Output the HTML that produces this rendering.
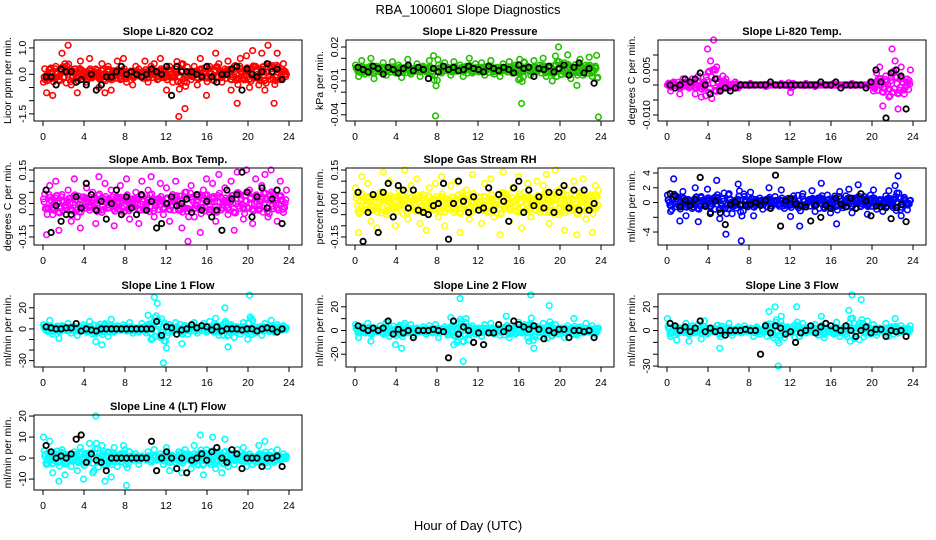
<!DOCTYPE html>
<html><head><meta charset="utf-8"><style>
html,body{margin:0;padding:0;background:#fff;}
svg{display:block;font-family:"Liberation Sans",sans-serif;}
</style></head><body>
<svg id="chart" width="936" height="540" viewBox="0 0 936 540" xmlns="http://www.w3.org/2000/svg">
<rect width="936" height="540" fill="#fff"/>
<text x="468" y="14" text-anchor="middle" font-size="13">RBA_100601  Slope Diagnostics</text>
<text x="468" y="530" text-anchor="middle" font-size="13">Hour of Day (UTC)</text>
</svg>
<script>
const xTicks = [0,4,8,12,16,20,24];
const co2C = [-0.3,-0.7,0.2,-0.8,0.3,-0.2,0.8,0.4,1.1,-0.4,0.2,-0.7,0.5,0.1,-0.3,0.6,-0.1,0.2,-0.5,0.4,-0.7,0.3,-0.6,0.1,0.5,-0.2,0.6,-0.3,0.1,-0.4,0.3,0.2,-0.1,0.5,-0.3,0.3,0.4,-0.2,0.6,0.0,-0.6,0.3,-0.3,0.2,-1.6,0.4,-1.3,0.1,-0.2,0.3,-0.4,0.6,0.1,-0.8,0.3,-0.2,0.8,0.4,-0.3,0.2,0.5,-0.6,0.3,-1.1,0.6,-0.2,0.7,-0.5,0.9,0.3,-0.4,0.8,-0.6,1.1,0.2,-1.1,0.8,-0.2,0.4,0.0];
const co2K = [-0.1,-0.1,-0.4,0.2,0.1,0.1,-0.3,-0.2,-0.4,0.0,-0.6,-0.4,-0.1,-0.1,0.1,0.3,0.0,0.1,0.0,-0.1,0.0,0.2,0.1,0.0,0.3,-0.8,0.3,0.1,0.1,0.1,0.0,-0.1,0.3,-0.1,-0.3,0.0,0.0,0.2,0.3,-0.6,0.2,0.0,-0.1,0.1,0.4,0.1,0.2,-0.2];
const presC = [.004,-.006,.008,-.004,.002,.010,-.008,.003,-.002,.006,-.005,.001,.007,-.003,.004,-.007,.002,.009,-.004,.000,.005,-.006,.003,-.002,.008,-.004,-.041,.004,-.003,.006,.002,-.005,.007,-.001,.004,-.006,.003,.010,-.003,.005,-.002,.006,-.005,.003,.008,-.004,.002,-.006,.005,.001,.007,-.003,.004,-.009,-.030,.006,.003,-.005,.008,-.002,.004,.010,-.006,.003,-.010,.012,.020,-.004,.006,.013,-.008,.002,-.014,.009,-.005,.004,.011,-.006,.003,-.042];
const presK = [.002,.000,-.002,.003,.001,-.004,.002,.000,-.003,.001,.004,-.001,.002,.000,-.008,.001,-.002,.003,.000,.002,-.001,.000,.003,.001,.000,-.002,.003,.001,-.001,.002,.000,-.003,.004,.001,.002,-.006,.001,.000,.003,-.002,.001,.004,-.005,.002,.006,-.003,.001,-.012];
const tempC = [.000,-.002,.001,.000,-.003,.002,.001,-.001,.002,-.003,.003,-.004,.001,.012,.008,.015,.006,-.002,.003,.002,-.001,.000,.001,-.001,.000,.000,.000,.0005,.000,.000,.000,.000,-.0005,.000,.000,.000,.000,.0005,.000,.000,-.0025,.000,.000,.000,.000,.0005,.000,.000,-.0005,.000,.000,.000,.000,.000,.0005,.000,.000,.000,.000,.000,.0005,.000,.000,.000,.000,.000,.001,-.002,.004,.006,-.007,.003,-.004,.012,.008,-.008,.006,-.003,.002,.005];
const tempK = [.000,-.001,.000,.002,.001,.002,.004,.000,-.003,.002,-.002,-.001,-.002,-.001,.000,.000,.000,.000,.000,.000,.001,.000,.000,.000,.000,.000,.000,.000,.000,.000,.001,.000,.000,.001,-.001,.000,.000,.000,.000,-.001,.001,.005,.001,-.011,.004,.005,.003,-.008];
const ambC = [.02,-.14,.08,-.05,.10,-.12,.04,-.02,.06,-.08,.11,-.06,-.11,.03,.07,-.03,.05,-.09,.12,-.04,.09,-.02,.06,-.10,.03,.08,-.04,.11,-.07,.02,.05,-.09,.10,-.03,.06,.12,-.06,.02,.09,-.05,.07,-.08,.04,.10,-.03,-.11,.05,-.17,.08,-.06,.03,-.13,.06,.11,-.04,.09,-.08,.13,-.02,.07,-.05,.10,-.12,.14,.04,-.07,.15,.06,-.09,.11,-.03,.08,.13,-.06,.15,.04,-.08,.10,-.04,.06];
const ambK = [.06,-.13,-.01,-.08,-.05,-.05,.03,-.02,.09,.04,-.03,.01,-.07,.00,.06,-.05,.03,-.02,-.05,.04,-.03,.01,-.11,-.09,.00,.03,-.01,.00,.02,-.04,.04,-.03,.01,-.06,-.03,-.12,.06,.02,.04,.14,.05,-.06,.03,.07,-.02,.02,.06,-.09];
const rhC = [.07,-.13,.12,-.03,.09,-.08,.03,-.11,.05,.14,-.05,.10,-.01,-.10,.06,.02,.15,-.07,.08,-.03,.11,-.09,.04,-.12,.07,-.02,.09,-.06,.12,-.10,.01,.08,-.04,.10,-.13,.05,.06,-.07,.13,-.02,.03,-.09,.09,-.04,.11,-.06,.02,-.14,.14,.04,-.08,.07,-.03,.12,-.11,.05,.09,-.06,.02,.10,-.04,.08,.13,-.09,.03,.15,-.05,.07,-.12,.06,-.02,.10,-.14,.05,.11,-.07,.03,-.13,.08,.06];
const rhK = [.05,-.17,-.04,.04,-.13,.05,.09,-.06,.08,.06,-.02,.06,-.03,-.04,-.05,-.01,.00,.09,-.16,.00,.10,.01,-.04,.03,-.03,-.02,.07,-.03,.04,.01,-.08,.07,.10,-.04,.06,-.01,.03,-.02,.05,-.04,.05,.08,-.02,.06,-.03,.06,-.03,.00];
const sfC = [1.0,-1.2,3.2,0.5,-2.5,1.5,-1.8,0.3,-0.8,2.0,-2.6,0.8,-0.3,1.8,-1.3,0.6,3.0,-2.2,0.5,-4.3,1.2,-1.5,-0.4,2.5,-5.2,0.8,-0.6,1.4,-1.8,0.3,0.6,-0.9,0.4,2.0,-0.5,0.8,-0.3,1.7,-0.8,0.5,-1.9,0.9,-0.4,-3.2,1.2,-0.6,0.4,1.6,-1.2,0.6,2.6,-0.8,1.0,-1.4,0.5,-2.9,1.5,-0.7,0.9,1.8,-1.4,0.6,2.4,-0.5,0.8,-1.6,1.0,1.7,-0.9,0.4,-1.2,0.9,1.6,-0.4,2.3,3.6,-1.8,0.7,-1.0,0.3];
const sfK = [1.2,0.9,-0.6,0.3,-0.4,0.4,3.4,-0.5,-1.5,0.2,-1.4,-3.0,-0.3,0.1,-0.3,-0.4,-0.3,0.0,-0.4,0.3,-0.8,3.7,-3.2,0.2,0.5,-0.2,-0.4,-0.6,-2.5,-0.4,-2.0,-0.4,-0.8,0.6,-0.2,-0.6,0.6,-0.8,1.2,0.2,-1.8,-0.5,-0.6,-0.7,-2.2,-0.7,-0.3,-2.6];
const l1C = [4,-2,8,-5,2,-9,3,-1,5,-4,2,-6,1,4,-3,7,-5,-12,2,-15,5,-7,9,-3,3,-1,4,-2,6,-4,1,-3,5,-2,13,-10,30,24,-8,-32,-18,4,-3,6,-1,-14,3,-5,2,6,-4,1,5,-3,7,-2,10,-6,3,20,-17,4,-8,2,-5,6,-3,32,8,-4,2,-6,5,-2,8,-3,4,-1,3,1];
const l1K = [2,1,0,0,1,1,5,-2,0,-1,-2,0,0,0,0,0,0,0,0,0,0,0,7,-6,2,1,-5,-1,0,4,1,3,2,-1,2,-2,0,0,0,-1,0,0,-2,0,1,0,-3,0];
const l2C = [5,-6,3,-2,6,-9,2,-1,4,-3,7,-5,1,-12,3,-15,6,-2,5,-4,2,-1,3,-3,4,-2,5,-6,1,3,-4,11,-12,-10,27,-26,10,-8,4,-3,2,-5,5,-1,6,-3,2,-4,1,12,-6,4,-3,7,-2,5,-6,30,-15,3,-5,6,-2,21,-4,5,-3,2,-6,4,-1,10,-4,3,-2,6,-1,4,-3,2];
const l2K = [4,2,0,2,0,2,8,-3,1,-2,0,-6,0,0,0,1,0,-1,-23,8,-3,3,0,-10,-2,-12,-2,-2,5,-1,2,8,5,3,1,4,1,-7,0,-2,1,1,-6,0,0,-1,0,-6];
const l3C = [10,-5,3,-8,2,-1,6,-9,4,-2,5,-7,8,-3,2,-1,4,-15,3,-2,6,-4,1,3,-2,4,-1,2,-5,3,-3,1,5,16,-4,20,-30,12,-6,3,-2,4,20,-5,6,-2,3,-1,5,-4,12,-6,2,4,-3,7,-5,2,-3,17,30,-6,4,26,-2,8,-3,5,-4,2,-1,6,-5,3,10,-2,4,-1,2,4];
const l3K = [6,4,0,3,-1,2,8,-1,2,-1,0,-4,0,0,0,1,0,0,-20,4,-2,4,2,-3,-1,-10,-2,0,4,-2,3,6,4,2,0,4,0,-5,0,3,-2,1,1,-5,0,-1,0,-5];
const l4C = [10,-3,8,-7,2,-11,4,-8,1,-4,3,-6,5,-10,2,7,-7,20,-2,6,-11,3,-9,5,-4,2,6,-13,3,-1,2,-3,1,0,3,-2,4,-1,2,-3,5,-6,1,-2,3,-7,4,2,-5,6,-3,11,-8,4,-2,10,-5,3,-7,9,-4,2,-3,4,-1,5,-4,2,-3,-2,6,-1,8,-4,3,-2,4,-1,2,1];
const l4K = [6,3,0,1,0,2,9,11,-2,2,-1,-2,-6,0,0,0,0,0,0,0,0,8,-6,0,3,0,-5,0,-7,-1,0,2,-1,3,5,0,-2,4,2,-5,0,0,0,-4,0,0,1,-4];

const svg = document.getElementById('chart');
const NS = 'http://www.w3.org/2000/svg';
function mk(tag, attrs, parent){const e=document.createElementNS(NS,tag);for(const k in attrs)e.setAttribute(k,attrs[k]);(parent||svg).appendChild(e);return e;}

const colX=[34,346,658], rowY=[[40,121],[168,245],[294,367],[415,490]];
const panels = [
 {t:'Slope Li-820 CO2',yl:'Licor ppm per min.',c:'#ff0000',col:0,row:0,dom:[-1.77,1.30],ticks:[-1.5,-1,-0.5,0,0.5,1],labs:['-1.5','','','0.0','','1.0'],cd:co2C,kd:co2K,name:'co2'},
 {t:'Slope Li-820 Pressure',yl:'kPa per min.',c:'#22c000',col:1,row:0,dom:[-0.0455,0.0262],ticks:[-0.04,-0.03,-0.02,-0.01,0,0.01,0.02],labs:['-0.04','','','-0.01','','','0.02'],cd:presC,kd:presK,name:'pressure'},
 {t:'Slope Li-820 Temp.',yl:'degrees C per min.',c:'#ff00ff',col:2,row:0,dom:[-0.012,0.015],ticks:[-0.01,-0.005,0,0.005,0.01],labs:['-0.010','','','0.005',''],cd:tempC,kd:tempK,name:'li820-temp'},
 {t:'Slope Amb. Box Temp.',yl:'degrees C per min.',c:'#ff00ff',col:0,row:1,dom:[-0.186,0.159],ticks:[-0.15,-0.1,-0.05,0,0.05,0.1,0.15],labs:['-0.15','','','0.00','','','0.15'],cd:ambC,kd:ambK,name:'amb-temp'},
 {t:'Slope Gas Stream RH',yl:'percent per min.',c:'#ffff00',col:1,row:1,dom:[-0.186,0.159],ticks:[-0.15,-0.1,-0.05,0,0.05,0.1,0.15],labs:['-0.15','','','0.00','','','0.15'],cd:rhC,kd:rhK,name:'rh'},
 {t:'Slope Sample Flow',yl:'ml/min per min.',c:'#0000ff',col:2,row:1,dom:[-5.76,4.68],ticks:[-4,-2,0,2,4],labs:['-4','','0','2','4'],cd:sfC,kd:sfK,name:'sample-flow'},
 {t:'Slope Line 1 Flow',yl:'ml/min per min.',c:'#00ffff',col:0,row:2,dom:[-36,33],ticks:[-30,-20,-10,0,10,20],labs:['-30','','','0','','20'],cd:l1C,kd:l1K,name:'line1'},
 {t:'Slope Line 2 Flow',yl:'ml/min per min.',c:'#00ffff',col:1,row:2,dom:[-30.8,30.8],ticks:[-20,-10,0,10,20],labs:['-20','','0','','20'],cd:l2C,kd:l2K,name:'line2'},
 {t:'Slope Line 3 Flow',yl:'ml/min per min.',c:'#00ffff',col:2,row:2,dom:[-30.8,30.8],ticks:[-30,-20,-10,0,10,20],labs:['-30','','','0','','20'],cd:l3C,kd:l3K,name:'line3'},
 {t:'Slope Line 4 (LT) Flow',yl:'ml/min per min.',c:'#00ffff',col:0,row:3,dom:[-15.2,20.5],ticks:[-10,0,10,20],labs:['-10','0','10','20'],cd:l4C,kd:l4K,name:'line4'}
];

panels.forEach(p=>{
  const L=colX[p.col], R=L+268, T=rowY[p.row][0], B=rowY[p.row][1];
  const xs=h=>L+9+h/24*246;
  const ys=v=>B-(v-p.dom[0])/(p.dom[1]-p.dom[0])*(B-T);
  const g=mk('g',{});
  
  
  const title=mk('text',{x:(L+R)/2,y:T-5,'text-anchor':'middle','font-size':'11','font-weight':'bold'},g);
  title.textContent=p.t;
  
  
  const yt=mk('text',{x:0,y:0,'text-anchor':'middle','font-size':'10.5',transform:`translate(${L-23},${(T+B)/2}) rotate(-90)`},g);
  yt.textContent=p.yl;
  
  
  const cg=mk('g',{fill:'none',stroke:p.c,'stroke-width':'1.6'},g);
  
  
  const sub=[[0.06,0.35,0],[0.12,0,-0.3],[0.18,0.25,0.2],[0.24,-0.2,0.15]];
  p.cd.forEach((v,i)=>{
    const h=0.05+i*0.3;
    const c=mk('circle',{cx:xs(h).toFixed(1),cy:ys(v).toFixed(1),r:'2.8'},cg);
    
    
    if(i<p.cd.length-1){
      const nx=p.cd[i+1];
      sub.forEach(s=>{
        const c2=mk('circle',{cx:xs(h+s[0]).toFixed(1),cy:ys(v*s[1]+nx*s[2]).toFixed(1),r:'2.8'},cg);
        
        
      });
    }
  });
  const kg=mk('g',{fill:'none',stroke:'#000','stroke-width':'1.8'},g);
  
  
  p.kd.forEach((v,i)=>{
    const c=mk('circle',{cx:xs(0.3+i*0.49).toFixed(1),cy:ys(v).toFixed(1),r:'2.7'},kg);
    
    
  });
  const box=mk('rect',{x:L,y:T,width:R-L,height:B-T,fill:'none',stroke:'#000','stroke-width':'1'},g);
  
  
  mk('line',{x1:xs(0),x2:xs(24),y1:B,y2:B,stroke:'#000'},g);
  xTicks.forEach(h=>{
    mk('line',{x1:xs(h),x2:xs(h),y1:B,y2:B+5,stroke:'#000'},g);
    const t=mk('text',{x:xs(h),y:B+19,'text-anchor':'middle','font-size':'10.5'},g);
    t.textContent=h;
    
    
  });
  mk('line',{x1:L,x2:L,y1:ys(p.ticks[0]),y2:ys(p.ticks[p.ticks.length-1]),stroke:'#000'},g);
  p.ticks.forEach((v,i)=>{
    mk('line',{x1:L-5,x2:L,y1:ys(v),y2:ys(v),stroke:'#000'},g);
    if(p.labs[i]){
      const t=mk('text',{x:0,y:0,'text-anchor':'middle','font-size':'10.5',transform:`translate(${L-8},${ys(v)}) rotate(-90)`},g);
      t.textContent=p.labs[i];
      
      
    }
  });
});
</script>
</body></html>
